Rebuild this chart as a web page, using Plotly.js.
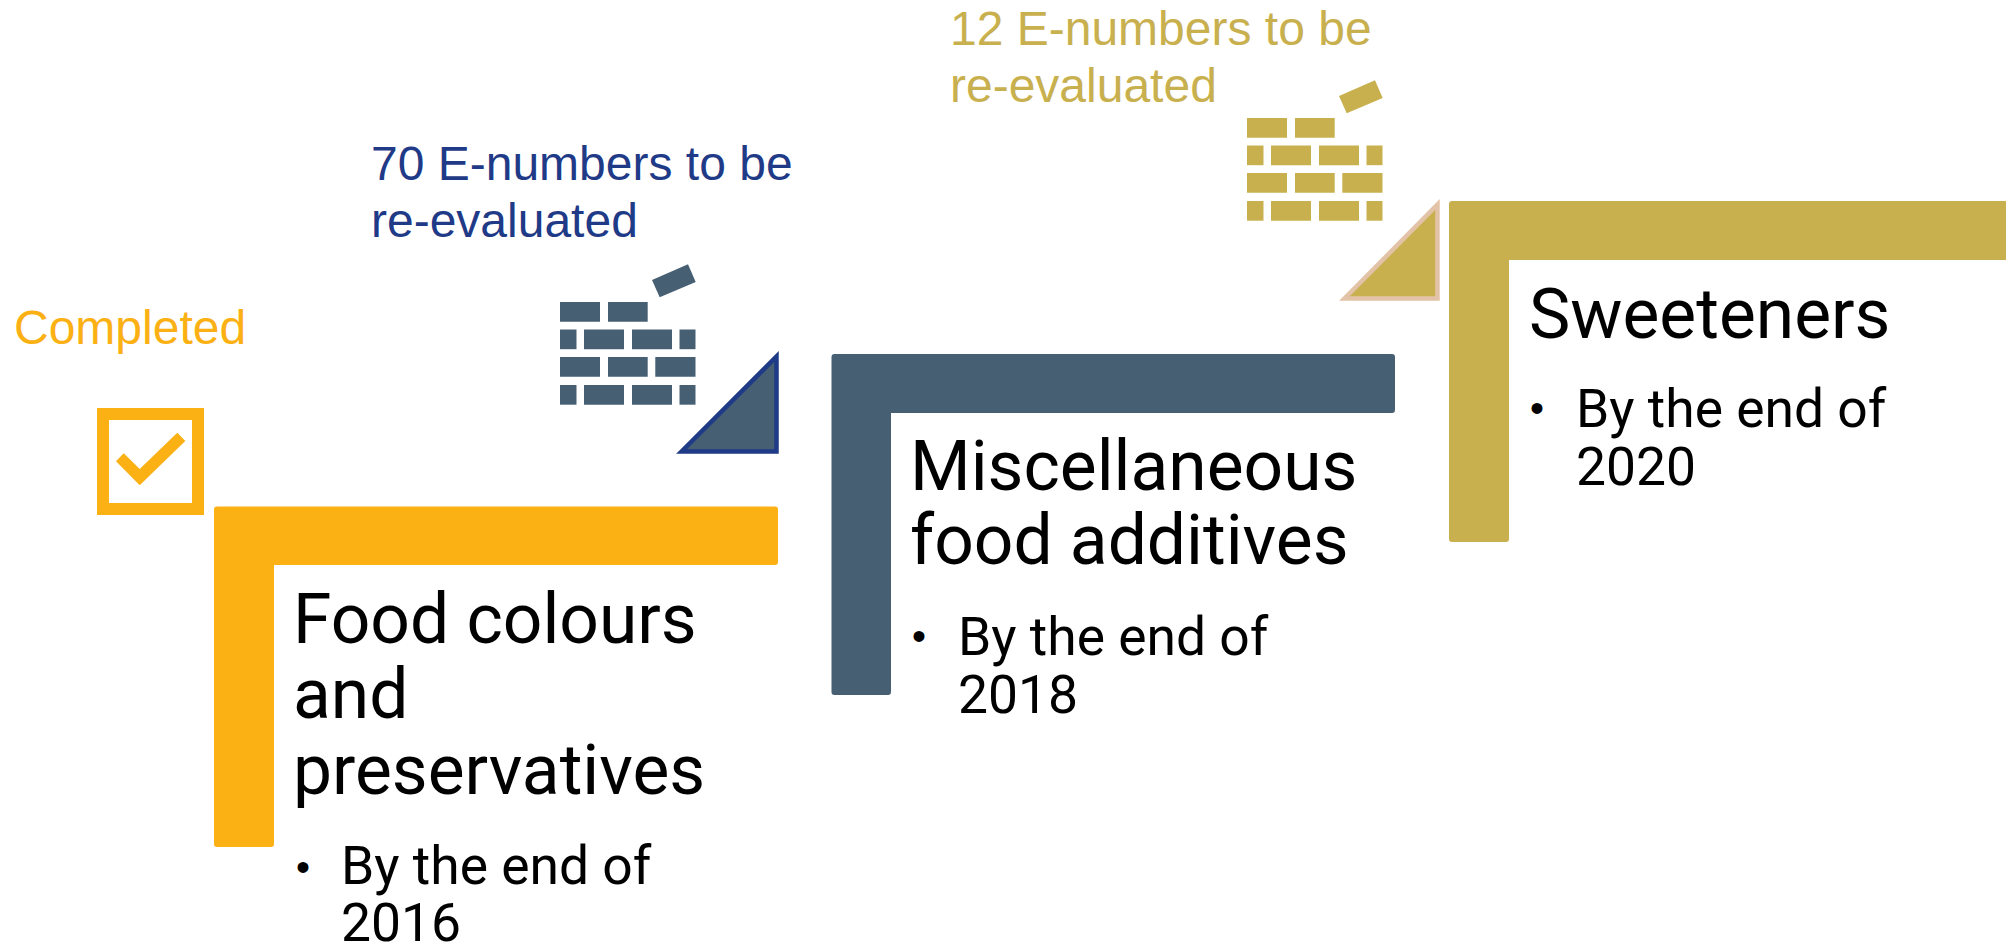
<!DOCTYPE html>
<html>
<head>
<meta charset="utf-8">
<script src="https://cdn.plot.ly/plotly-3.0.1.min.js"></script>
<style>html,body{margin:0;padding:0;background:#fff}#chart{width:2006px;height:946px}</style>
</head>
<body>
<div id="chart"></div>
<script>
// Text content
var stepTitles = [["Food colours","and","preservatives"],["Miscellaneous","food additives"],["Sweeteners"]];
var stepDeadlines = [["By the end of","2016"],["By the end of","2018"],["By the end of","2020"]];
var statusNotes = [["Completed"],["70 E-numbers to be","re-evaluated"],["12 E-numbers to be","re-evaluated"]];

// Colours
var stepColours = ["#fbb013","#475f73","#c9b04f"];
var noteColours = ["#fbb013","#1f3a87","#c9b04f"];
var triangleEdges = ["", "#1f3a87", "#e3c3a7"];

// Geometry (page pixels on the hidden axes)
var frames = [
  {x0:214,x1:778,y0:506.5,y1:847,tx:274,ty:565},
  {x0:831.5,x1:1395,y0:354,y1:695,tx:891,ty:413},
  {x0:1449,x1:2012,y0:201,y1:542,tx:1509,ty:260}
];
var titleX = [293,909.5,1528.5];
var titleBase = [[643.5,718.5,794],[490,564],[338.5]];
var deadlineX = [340.5,957.5,1576];
var deadlineBase = [[884,941],[655,713],[427,485]];
var bulletX = [302.5,919,1537];
var bulletY = [867,635.7,408];
var noteX = [14,371,950];
var noteBase = [[343.6],[180,237],[45,101.7]];

var brickOrigins = [null,[560,302],[1247,118]];
var brickRows = [
  [[0,40],[48,87.7]],
  [[0,16.5],[24,64],[72,112],[119.5,135.5]],
  [[0,40],[48,87.7],[95.3,135.5]],
  [[0,16.5],[24,64],[72,112],[119.5,135.5]]
];
var brickRowTop = [0,27.5,55,83];
var brickHeight = 19.7;
var looseBrick = [[92,-22],[128,-37.7],[135.7,-20],[99.7,-4.7]];
var triangles = [null,[[681.5,451.5],[776.5,356.5],[776.5,451.5]],[[1344.5,298.5],[1437.5,204.5],[1437.5,298.5]]];

var checkFrame = {x0:97,x1:204,y0:408,y1:515,ix0:109,ix1:192,iy0:420,iy1:503};
var checkMark = [[116,461.3],[123.7,453.3],[139.7,469],[177.3,432.7],[185.3,441],[139.7,485.3]];

var titleSize = 69.5, deadlineSize = 53.4, noteSize = 48, bulletSize = 40;
var bodyFont = "Roboto, sans-serif", noteFont = "'Liberation Sans', Arial, sans-serif";

function poly(pts){ return "M"+pts.map(function(p){return p[0]+","+p[1];}).join(" L")+" Z"; }
function shape(path,fill,edge,w){
  return {type:"path",xref:"x",yref:"y",path:path,fillcolor:fill,
    line:{color:edge||fill,width:edge?(w||0):0},layer:"below"};
}
function frame(f){
  var r=3;
  return "M"+(f.x0+r)+","+f.y0+" L"+(f.x1-r)+","+f.y0+" Q"+f.x1+","+f.y0+" "+f.x1+","+(f.y0+r)+
    " L"+f.x1+","+(f.ty-r)+" Q"+f.x1+","+f.ty+" "+(f.x1-r)+","+f.ty+
    " L"+f.tx+","+f.ty+" L"+f.tx+","+(f.y1-r)+" Q"+f.tx+","+f.y1+" "+(f.tx-r)+","+f.y1+
    " L"+(f.x0+r)+","+f.y1+" Q"+f.x0+","+f.y1+" "+f.x0+","+(f.y1-r)+
    " L"+f.x0+","+(f.y0+r)+" Q"+f.x0+","+f.y0+" "+(f.x0+r)+","+f.y0+" Z";
}

var shapes = [];
frames.forEach(function(f,i){ shapes.push(shape(frame(f),stepColours[i])); });
[1,2].forEach(function(i){
  var o = brickOrigins[i], col = stepColours[i];
  brickRows.forEach(function(row,r){
    row.forEach(function(b){
      var t=o[1]+brickRowTop[r];
      shapes.push(shape(poly([[o[0]+b[0],t],[o[0]+b[1],t],[o[0]+b[1],t+brickHeight],[o[0]+b[0],t+brickHeight]]),col));
    });
  });
  shapes.push(shape(poly(looseBrick.map(function(p){return [o[0]+p[0],o[1]+p[1]];})),col));
  shapes.push(shape(poly(triangles[i]),col,triangleEdges[i],4.5));
});
var c = checkFrame;
shapes.push(shape("M"+c.x0+","+c.y0+" L"+c.x1+","+c.y0+" L"+c.x1+","+c.y1+" L"+c.x0+","+c.y1+" Z "+
  "M"+c.ix0+","+c.iy0+" L"+c.ix0+","+c.iy1+" L"+c.ix1+","+c.iy1+" L"+c.ix1+","+c.iy0+" Z",stepColours[0]));
shapes.push(shape(poly(checkMark),stepColours[0]));

var annotations = [];
function label(text,x,base,size,family,colour){
  annotations.push({text:text,x:x,y:base-0.34*size,xref:"x",yref:"y",xanchor:"left",yanchor:"middle",
    showarrow:false,borderpad:0,borderwidth:0,align:"left",font:{family:family,size:size,color:colour}});
}
stepTitles.forEach(function(lines,i){
  lines.forEach(function(t,j){ label(t,titleX[i],titleBase[i][j],titleSize,bodyFont,"#000000"); });
  stepDeadlines[i].forEach(function(t,j){ label(t,deadlineX[i],deadlineBase[i][j],deadlineSize,bodyFont,"#000000"); });
  annotations.push({text:"•",x:bulletX[i],y:bulletY[i],xref:"x",yref:"y",xanchor:"center",yanchor:"middle",
    showarrow:false,borderpad:0,font:{family:noteFont,size:bulletSize,color:"#000000"}});
  statusNotes[i].forEach(function(t,j){ label(t,noteX[i],noteBase[i][j],noteSize,noteFont,noteColours[i]); });
});

var hidden = {visible:false,showgrid:false,zeroline:false,fixedrange:true};
Plotly.newPlot("chart",[],{
  width:2006,height:946,
  margin:{l:0,r:0,t:0,b:0,pad:0},
  paper_bgcolor:"#ffffff",plot_bgcolor:"#ffffff",showlegend:false,
  xaxis:Object.assign({range:[0,2006]},hidden),
  yaxis:Object.assign({range:[946,0]},hidden),
  shapes:shapes,annotations:annotations
},{displayModeBar:false,staticPlot:true});
</script>
</body>
</html>
